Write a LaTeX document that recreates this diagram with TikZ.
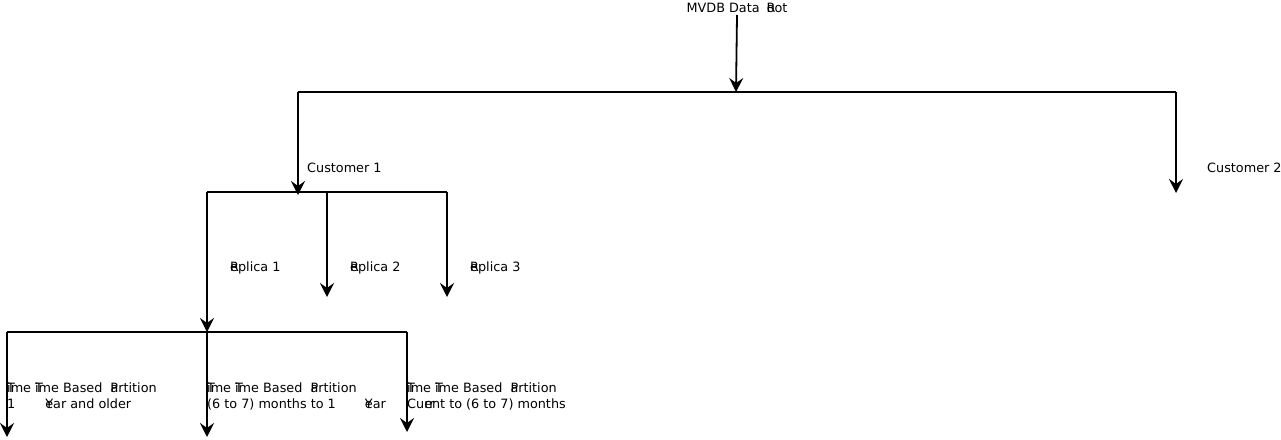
\documentclass[tikz,border=0pt]{standalone}
\usepackage{fontspec}
\setmainfont{DejaVu Sans}
\usetikzlibrary{arrows.meta}
\newcommand{\gapP}{\hspace{4pt}\rlap{P}artition}
\begin{document}
\begin{tikzpicture}[x=1pt,y=-1pt,
  lbl/.style={font=\fontsize{12.8}{16}\selectfont, inner sep=0pt, anchor=west, align=left},
  conn/.style={line width=1.8pt, -{Stealth[length=14pt,width=14pt,inset=5pt]}},
  bar/.style={line width=1.8pt}]
\useasboundingbox (0,0) rectangle (1281,439);
% texts
\node[lbl, anchor=center] (root) at (737,8) {MVDB Data \hspace{3pt}\rlap{R}oot};
\node[lbl] (cust1) at (307,168) {Customer 1};
\node[lbl] (cust2) at (1207,168) {Customer 2};
\node[lbl] (rep1) at (230,268) {\rlap{R}eplica 1};
\node[lbl] (rep2) at (350,268) {\rlap{R}eplica 2};
\node[lbl] (rep3) at (470,268) {\rlap{R}eplica 3};
\node[lbl] (tier1) at (7,396) {\rlap{T}ime \rlap{T}ime Based \gapP\\1\hspace{30pt}\rlap{Y}ear and older};
\node[lbl] (tier2) at (207,396) {\rlap{T}ime \rlap{T}ime Based \gapP\\(6 to 7) months to 1\hspace{29pt}\rlap{Y}ear};
\node[lbl] (tier3) at (407,396) {\rlap{T}ime \rlap{T}ime Based \gapP\\Cu\rlap{rr}ent to (6 to 7) months};
% coordinates
\coordinate (rootout) at (737,15);
\coordinate (hub0) at (736,92);
\coordinate (bl0) at (298,92);
\coordinate (br0) at (1176,92);
\coordinate (c1end) at (298,195);
\coordinate (c2end) at (1176,193);
\coordinate (bl1) at (207,192);
\coordinate (bm1) at (327,192);
\coordinate (br1) at (447,192);
\coordinate (r1end) at (207,332);
\coordinate (r2end) at (327,297);
\coordinate (r3end) at (447,297);
\coordinate (bl2) at (7,332);
\coordinate (br2) at (407,332);
\coordinate (t1end) at (7,437);
\coordinate (t2end) at (207,437);
\coordinate (t3end) at (407,432);
% connectors
\draw[conn] (rootout) -- (hub0);
\draw[bar] (bl0) -- (br0);
\draw[conn] (bl0) -- (c1end);
\draw[conn] (br0) -- (c2end);
\draw[bar] (bl1) -- (br1);
\draw[conn] (bl1) -- (r1end);
\draw[conn] (bm1) -- (r2end);
\draw[conn] (br1) -- (r3end);
\draw[bar] (bl2) -- (br2);
\draw[conn] (bl2) -- (t1end);
\draw[conn] (r1end) -- (t2end);
\draw[conn] (br2) -- (t3end);
\end{tikzpicture}
\end{document}
